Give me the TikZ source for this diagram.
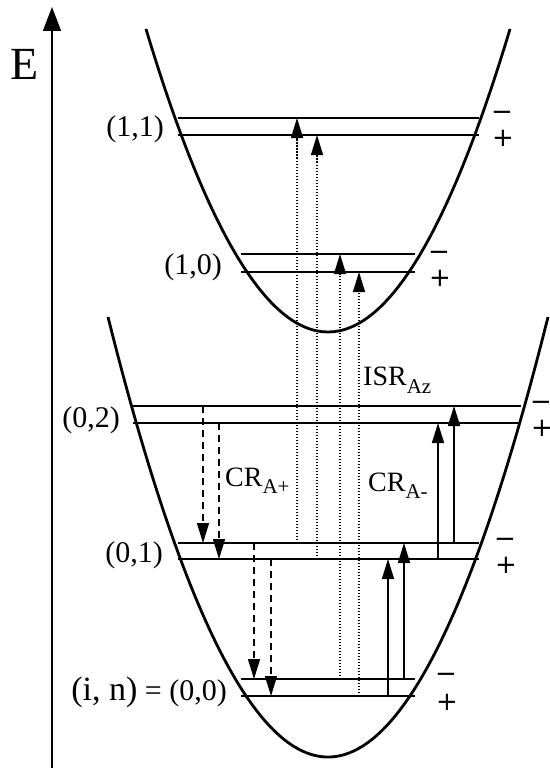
\documentclass[tikz,border=0pt]{standalone}
\usepackage{fontspec}
\setmainfont{Liberation Serif}
\newfontfamily\signfont{DejaVu Sans}
\usetikzlibrary{arrows.meta}
\begin{document}
\begin{tikzpicture}[x=1pt,y=-1pt,
  lvl/.style={line width=1.6pt},
  well/.style={line width=2.8pt},
  axis/.style={line width=1.6pt,-{Triangle[length=24pt,width=18pt]}},
  tipped/.style={-{Triangle[length=20pt,width=12pt]}},
  isr/.style={tipped, line width=1.4pt, dash pattern=on 1.5pt off 1.5pt},
  crp/.style={tipped, line width=1.5pt, dash pattern=on 7pt off 5pt},
  crm/.style={tipped, line width=1.7pt},
  lbl/.style={font=\fontsize{30}{36}\selectfont, inner sep=0pt, anchor=base east},
  sgn/.style={font=\signfont\fontsize{26}{28}\selectfont, inner sep=0pt},
  rate/.style={font=\fontsize{28}{34}\selectfont, inner sep=0pt, anchor=base west}]
\useasboundingbox (0,0) rectangle (549,768);

% energy axis
\coordinate (ax0) at (52,768);
\coordinate (ax1) at (52,7);
\draw[axis] (ax0) -- (ax1);
\node[font=\fontsize{46}{50}\selectfont, inner sep=0pt, anchor=base] (E) at (25,80) {E};

% potential wells (exact parabolas)
\coordinate (uA) at (146,29); \coordinate (uB) at (510,29);
\coordinate (lA) at (108,317); \coordinate (lB) at (548,317);
\draw[well] (uA) .. controls (267.33,433) and (388.67,433) .. (uB);
\draw[well] (lA) .. controls (254.67,903.67) and (401.33,903.67) .. (lB);

% levels: name, y upper, y lower, x left, x right
\foreach \n/\yu/\yl/\xl/\xr in {11/118/135/178/479, 10/254/272/241/415, 02/406/423/133/521, 01/543/559/178/479, 00/679/696/241/415}{
  \coordinate (u\n l) at (\xl,\yu); \coordinate (u\n r) at (\xr,\yu);
  \coordinate (d\n l) at (\xl,\yl); \coordinate (d\n r) at (\xr,\yl);
  \draw[lvl] (u\n l) -- (u\n r);
  \draw[lvl] (d\n l) -- (d\n r);
}

% level labels
\node[lbl] (n11) at (164,136) {(1,1)};
\node[lbl] (n10) at (222,274) {(1,0)};
\node[lbl] (n02) at (120,427) {(0,2)};
\node[lbl] (n01) at (163,562) {(0,1)};
\node[lbl] (n00) at (227,700) {{\fontsize{34}{36}\selectfont (i, n)} = (0,0)};

% parity signs
\foreach \n/\x/\ym/\yp in {11/502/116/138, 10/439/256/278, 02/541/406/428, 01/505/543/565, 00/446/678/702}{
  \node[sgn] (m\n) at (\x,\ym) {−};
  \node[sgn] (p\n) at (\x+1,\yp) {+};
}

% ISR arrows (dotted, upward)
\foreach \i/\x/\ya/\yb in {1/297/543/118, 2/317/559/135, 3/340/679/254, 4/359/696/272}{
  \coordinate (is\i) at (\x,\ya); \coordinate (ie\i) at (\x,\yb);
  \draw[isr] (is\i) -- (ie\i);
}
% CR A+ arrows (dashed, downward)
\foreach \i/\x/\ya/\yb in {1/203/406/543, 2/219/423/559, 3/254/543/679, 4/271/559/696}{
  \coordinate (ps\i) at (\x,\ya); \coordinate (pe\i) at (\x,\yb);
  \draw[crp] (ps\i) -- (pe\i);
}
% CR A- arrows (solid, upward)
\foreach \i/\x/\ya/\yb in {1/438/559/423, 2/454/543/406, 3/388/696/559, 4/404/679/543}{
  \coordinate (ms\i) at (\x,\ya); \coordinate (me\i) at (\x,\yb);
  \draw[crm] (ms\i) -- (me\i);
}

% rate labels
\node[rate] (isrl) at (363,385) {ISR\raisebox{-8pt}{\fontsize{21}{22}\selectfont Az}};
\node[rate] (crpl) at (225,486) {CR\raisebox{-7pt}{\fontsize{21}{22}\selectfont A+}};
\node[rate] (crml) at (368,491) {CR\raisebox{-7pt}{\fontsize{21}{22}\selectfont A-}};
\end{tikzpicture}
\end{document}
